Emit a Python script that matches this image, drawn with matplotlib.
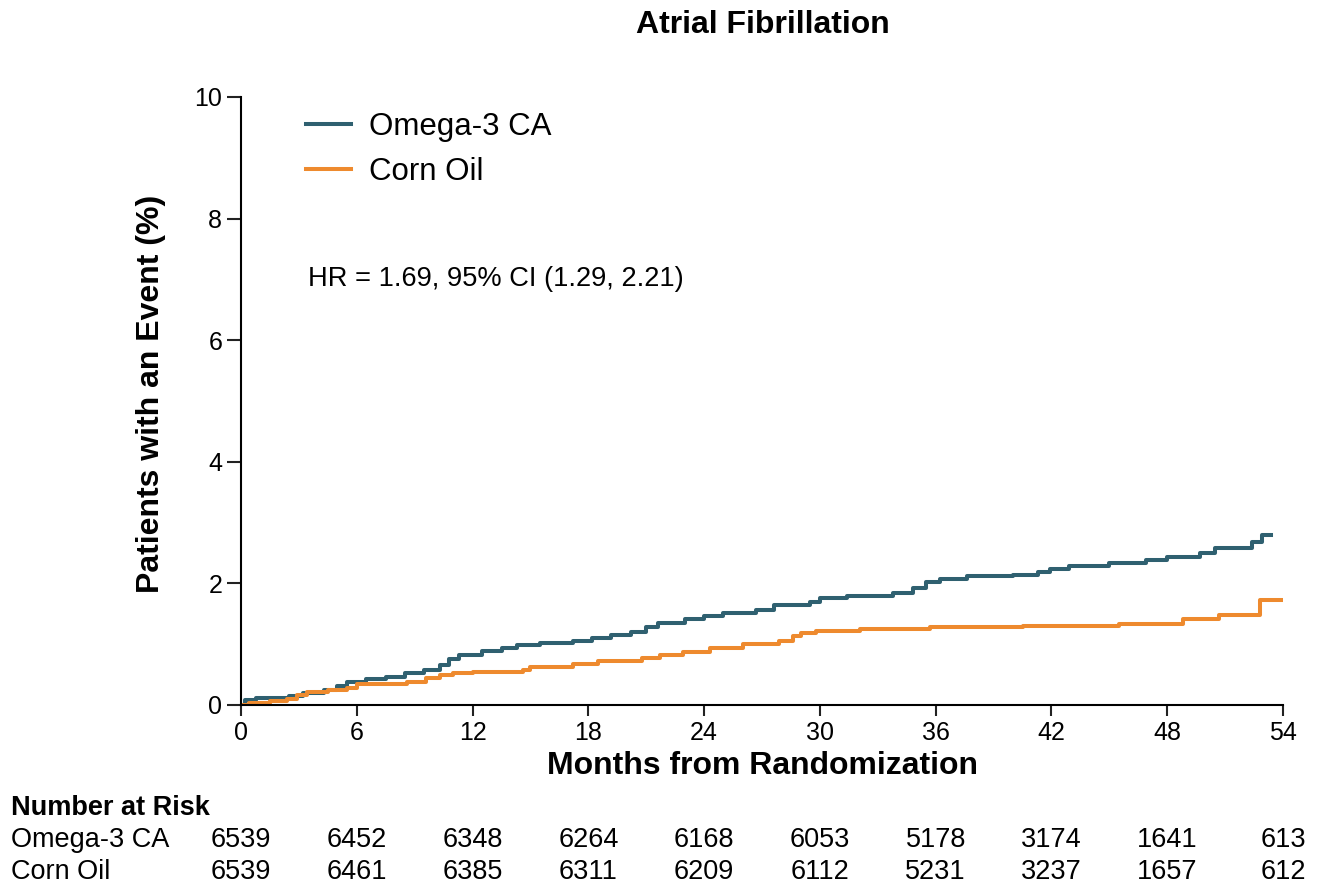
import matplotlib
matplotlib.use("Agg")
import matplotlib.pyplot as plt
from matplotlib.transforms import blended_transform_factory

plt.rcParams['font.family'] = ['Liberation Sans', 'DejaVu Sans']

# Kaplan-Meier style cumulative event curves
omega_months = [0, 0.2, 0.8, 2.5, 3.2, 4.3, 5.0, 5.5, 6.5, 7.5, 8.5, 9.5, 10.3, 10.8,
                11.3, 12.5, 13.5, 14.3, 15.5, 17.2, 18.2, 19.2, 20.2, 21.0, 21.6, 23.0,
                24.0, 25.0, 26.7, 27.6, 29.5, 30.0, 31.4, 33.8, 34.8, 35.5, 36.2, 37.6,
                40.0, 41.3, 41.9, 42.9, 45.0, 46.9, 48.0, 49.7, 50.5, 52.4, 52.9, 53.4]
omega_pct = [0, 0.08, 0.12, 0.15, 0.20, 0.25, 0.32, 0.37, 0.42, 0.46, 0.52, 0.58, 0.66, 0.75,
             0.83, 0.88, 0.93, 0.99, 1.02, 1.06, 1.10, 1.15, 1.20, 1.28, 1.35, 1.42,
             1.47, 1.51, 1.56, 1.64, 1.70, 1.76, 1.80, 1.84, 1.92, 2.02, 2.08, 2.12,
             2.14, 2.19, 2.24, 2.29, 2.33, 2.38, 2.44, 2.50, 2.58, 2.68, 2.80, 2.80]

corn_months = [0, 0.4, 1.5, 2.4, 2.9, 3.4, 4.5, 5.5, 6.0, 8.6, 9.6, 10.3, 11.0, 12.0,
               14.6, 15.0, 17.2, 18.5, 20.8, 21.7, 22.9, 24.3, 26.0, 27.9, 28.6, 29.0,
               29.8, 32.1, 35.7, 40.5, 45.5, 48.8, 50.7, 52.8, 54.0]
corn_pct = [0, 0.04, 0.06, 0.10, 0.16, 0.21, 0.25, 0.28, 0.34, 0.38, 0.44, 0.49, 0.52, 0.55,
            0.58, 0.63, 0.68, 0.73, 0.77, 0.82, 0.87, 0.94, 1.00, 1.06, 1.14, 1.19,
            1.22, 1.25, 1.28, 1.30, 1.33, 1.41, 1.48, 1.72, 1.72]

risk_months = [0, 6, 12, 18, 24, 30, 36, 42, 48, 54]
risk_omega = [6539, 6452, 6348, 6264, 6168, 6053, 5178, 3174, 1641, 613]
risk_corn = [6539, 6461, 6385, 6311, 6209, 6112, 5231, 3237, 1657, 612]

teal = "#2f6070"
orange = "#ee8a2e"

fig = plt.figure(figsize=(13.25, 8.88), dpi=100)
ax = fig.add_axes([0.1819, 0.2061, 0.7864, 0.6847])

ax.step(omega_months, omega_pct, where='post', color=teal, lw=2.9, label="Omega-3 CA")
ax.step(corn_months, corn_pct, where='post', color=orange, lw=2.9, label="Corn Oil")

ax.set_xlim(0, 54)
ax.set_ylim(0, 10)
ax.set_xticks(range(0, 55, 6))
ax.set_yticks(range(0, 11, 2))
ax.spines['top'].set_visible(False)
ax.spines['right'].set_visible(False)
ax.spines['left'].set_linewidth(1.5)
ax.spines['bottom'].set_linewidth(1.5)
ax.tick_params(axis='both', labelsize=18, width=1.5, length=8, color='#222222')
ax.tick_params(axis='y', length=10)

ax.set_xlabel("Months from Randomization", fontsize=23, fontweight='bold', labelpad=4)
ax.set_ylabel("Patients with an Event (%)", fontsize=23, fontweight='bold')
ax.yaxis.set_label_coords(-0.072, 0.5115)

ax.legend(loc='upper left', bbox_to_anchor=(0.0624, 0.975), frameon=False, fontsize=22.5,
          handlelength=1.45, handletextpad=0.55, labelspacing=0.48, borderpad=0,
          borderaxespad=0)

ax.text(3.47, 7.0, "HR = 1.69, 95% CI (1.29, 2.21)", fontsize=19.6, va='center', ha='left')

fig.text(0.576, 0.972, "Atrial Fibrillation", fontsize=23, fontweight='bold',
         ha='center', va='center')

# number at risk table
tr = blended_transform_factory(ax.transData, fig.transFigure)
fig.text(0.008, 0.090, "Number at Risk", fontsize=19.5, fontweight='bold', va='center')
fig.text(0.008, 0.054, "Omega-3 CA", fontsize=19.5, va='center')
fig.text(0.008, 0.018, "Corn Oil", fontsize=19.5, va='center')
for m, a, b in zip(risk_months, risk_omega, risk_corn):
    ax.text(m, 0.054, str(a), transform=tr, fontsize=19.5, ha='center', va='center')
    ax.text(m, 0.018, str(b), transform=tr, fontsize=19.5, ha='center', va='center')

fig.savefig("out.png", dpi=100)
